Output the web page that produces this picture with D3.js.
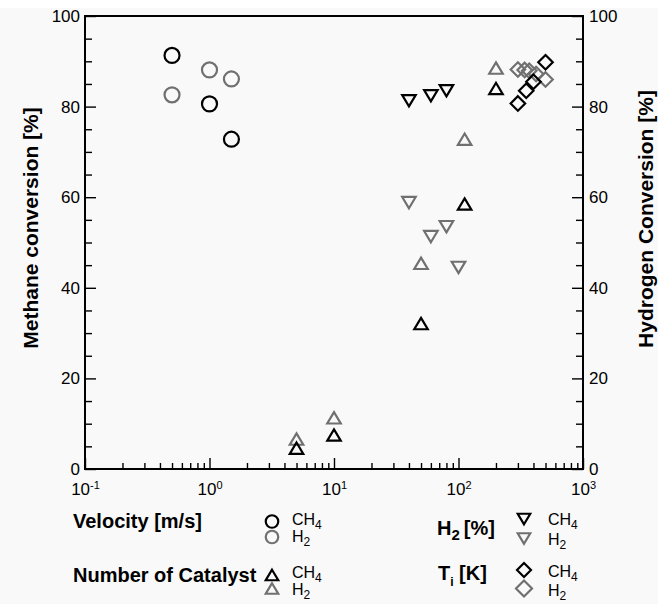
<!DOCTYPE html>
<html lang="en">
  <head>
    <meta charset="utf-8" />
    <title>Methane and hydrogen conversion</title>
    <script src="https://cdn.jsdelivr.net/npm/d3@7"></script>
    <style>
      body { margin: 0; background: #fff; }
      svg text { font-family: "Liberation Sans", Arial, Helvetica, sans-serif; fill: #000; }
    </style>
  </head>
  <body>
    <div id="chart"></div>
    <script>
      // axis ticks
      const xTickExp = [-1, 0, 1, 2, 3];
      const yTicks = [0, 20, 40, 60, 80, 100];

      // Velocity [m/s]
      const velX = [0.5, 1, 1.5];
      const velCH4 = [91.3, 80.6, 72.8];
      const velH2 = [82.6, 88.1, 86.1];

      // Number of Catalyst
      const catX = [5, 10, 50, 112, 200];
      const catCH4 = [4.6, 7.5, 32.1, 58.5, 84.0];
      const catH2 = [6.6, 11.3, 45.4, 72.8, 88.5];

      // H2 [%]
      const h2CH4X = [40, 60, 80];
      const h2CH4 = [81.3, 82.4, 83.5];
      const h2H2X = [40, 60, 80, 100];
      const h2H2 = [58.8, 51.3, 53.5, 44.5];

      // Ti [K]
      const tiCH4X = [300, 350, 400, 500];
      const tiCH4 = [80.7, 83.5, 85.5, 89.8];
      const tiH2X = [300, 340, 370, 420, 500];
      const tiH2 = [88.2, 88.1, 87.9, 87.2, 86.0];

      const cBlack = "#000",
        cGray = "#707070",
        cFont = "'Liberation Sans', Arial, Helvetica, sans-serif";

      const svg = d3
        .select("#chart")
        .append("svg")
        .attr("width", 666)
        .attr("height", 604);

      svg
        .append("rect")
        .attr("x", 0)
        .attr("y", 8)
        .attr("width", 658)
        .attr("height", 596)
        .attr("fill", "#f9f9f9");

      const xScale = d3.scaleLog().domain([0.1, 1000]).range([85, 583]);
      const yScale = d3.scaleLinear().domain([0, 100]).range([469, 16]);

      // marker shapes, centred on their bounding box
      const shapePath = {
        up: (s) => `M0,${-s * 0.42}L${s / 2},${s * 0.42}L${-s / 2},${s * 0.42}Z`,
        down: (s) => `M0,${s * 0.42}L${s / 2},${-s * 0.42}L${-s / 2},${-s * 0.42}Z`,
        diamond: (s) => `M0,${-s / 2}L${s / 2},0L0,${s / 2}L${-s / 2},0Z`,
      };

      function marker(g, shape, size, color) {
        if (shape === "circle") {
          g.append("circle")
            .attr("r", size / 2)
            .attr("fill", "none")
            .attr("stroke", color)
            .attr("stroke-width", 2.2);
        } else {
          g.append("path")
            .attr("d", shapePath[shape](size))
            .attr("fill", "none")
            .attr("stroke", color)
            .attr("stroke-width", 2.2)
            .attr("stroke-linejoin", "miter");
        }
      }

      const series = [
        { xs: velX, ys: velH2, shape: "circle", size: 15, color: cGray },
        { xs: velX, ys: velCH4, shape: "circle", size: 15, color: cBlack },
        { xs: catX, ys: catH2, shape: "up", size: 13.5, color: cGray },
        { xs: catX, ys: catCH4, shape: "up", size: 13.5, color: cBlack },
        { xs: h2H2X, ys: h2H2, shape: "down", size: 13.5, color: cGray },
        { xs: h2CH4X, ys: h2CH4, shape: "down", size: 13.5, color: cBlack },
        { xs: tiH2X, ys: tiH2, shape: "diamond", size: 14.5, color: cGray },
        { xs: tiCH4X, ys: tiCH4, shape: "diamond", size: 14.5, color: cBlack },
      ];

      // axes
      const fontAxis = (g) =>
        g.attr("font-size", 17).attr("font-family", cFont).call((g) => g.select(".domain").remove());

      const yMinor = d3.range(5, 100, 5).filter((v) => v % 20 !== 0);
      const xMinor = [];
      xTickExp.slice(0, -1).forEach((e) => {
        for (let k = 2; k <= 9; k++) xMinor.push(k * Math.pow(10, e));
      });

      svg.append("g")
        .attr("transform", `translate(${xScale.range()[0]},0)`)
        .call(d3.axisLeft(yScale).tickValues(yTicks).tickSize(-11).tickPadding(5))
        .call(fontAxis);
      svg.append("g")
        .attr("transform", `translate(${xScale.range()[0]},0)`)
        .call(d3.axisLeft(yScale).tickValues(yMinor).tickSize(-7).tickFormat(""))
        .call(fontAxis);
      svg.append("g")
        .attr("transform", `translate(${xScale.range()[1]},0)`)
        .call(d3.axisRight(yScale).tickValues(yTicks).tickSize(-11).tickPadding(6))
        .call(fontAxis);
      svg.append("g")
        .attr("transform", `translate(${xScale.range()[1]},0)`)
        .call(d3.axisRight(yScale).tickValues(yMinor).tickSize(-7).tickFormat(""))
        .call(fontAxis);

      const xAxis = svg.append("g")
        .attr("transform", `translate(0,${yScale.range()[0]})`)
        .call(d3.axisBottom(xScale).tickValues(xTickExp.map((e) => Math.pow(10, e))).tickSize(-11).tickFormat(""))
        .call(fontAxis);
      xAxis.selectAll(".tick text").remove();
      xAxis.selectAll(".tick").each(function (d, i) {
        const t = d3.select(this).append("text").attr("y", 26).attr("text-anchor", "middle").attr("fill", "#000");
        t.append("tspan").text("10");
        t.append("tspan").attr("dy", -6).attr("font-size", 11).text(xTickExp[i]);
      });
      svg.append("g")
        .attr("transform", `translate(0,${yScale.range()[0]})`)
        .call(d3.axisBottom(xScale).tickValues(xMinor).tickSize(-6).tickFormat(""))
        .call(fontAxis);

      svg.selectAll(".tick line").attr("stroke", "#000").attr("stroke-width", 1.4);

      // frame
      svg.append("rect")
        .attr("x", xScale.range()[0])
        .attr("y", yScale.range()[1])
        .attr("width", xScale.range()[1] - xScale.range()[0])
        .attr("height", yScale.range()[0] - yScale.range()[1])
        .attr("fill", "none")
        .attr("stroke", "#000")
        .attr("stroke-width", 2);

      // data markers
      series.forEach((s) => {
        s.xs.forEach((xv, i) => {
          const g = svg.append("g").attr("transform", `translate(${xScale(xv)},${yScale(s.ys[i])})`);
          marker(g, s.shape, s.size, s.color);
        });
      });

      // axis titles
      svg.append("text")
        .attr("transform", "translate(38,228) rotate(-90)")
        .attr("text-anchor", "middle")
        .attr("font-size", 21)
        .attr("font-weight", "bold")
        .text("Methane conversion [%]");
      svg.append("text")
        .attr("transform", "translate(653,219) rotate(-90)")
        .attr("text-anchor", "middle")
        .attr("font-size", 21)
        .attr("font-weight", "bold")
        .text("Hydrogen Conversion [%]");

      // legend
      const legend = svg.append("g");

      function legendTitle(x, y, parts) {
        const t = legend.append("text").attr("x", x).attr("y", y).attr("font-size", 20).attr("font-weight", "bold");
        parts.forEach((p) => {
          t.append("tspan").attr("dy", p.dy || 0).attr("font-size", p.size || null).text(p.text);
        });
      }

      function legendEntry(x, y, sub) {
        const t = legend.append("text").attr("x", x).attr("y", y).attr("font-size", 16);
        t.append("tspan").text(sub[0]);
        t.append("tspan").attr("dy", 4).attr("font-size", 12).text(sub[1]);
      }

      legendTitle(73, 528, [{ text: "Velocity [m/s]" }]);
      legendTitle(73, 582, [{ text: "Number of Catalyst" }]);
      legendTitle(437, 535, [
        { text: "H" },
        { text: "2", dy: 5, size: 15 },
        { text: "\u2009[%]", dy: -5 },
      ]);
      legendTitle(438, 580, [
        { text: "T" },
        { text: "i", dy: 6, size: 12 },
        { text: "\u00a0[K]", dy: -6 },
      ]);

      const legendItems = [
        { x: 272, y: 521.5, shape: "circle", size: 12.5, color: cBlack, tx: 292, ty: 525, sub: ["CH", "4"] },
        { x: 272, y: 537, shape: "circle", size: 12.5, color: cGray, tx: 292, ty: 542, sub: ["H", "2"] },
        { x: 272, y: 575, shape: "up", size: 12.5, color: cBlack, tx: 292, ty: 578, sub: ["CH", "4"] },
        { x: 272, y: 588.5, shape: "up", size: 12.5, color: cGray, tx: 292, ty: 595, sub: ["H", "2"] },
        { x: 524, y: 519, shape: "down", size: 12.5, color: cBlack, tx: 548, ty: 525, sub: ["CH", "4"] },
        { x: 524, y: 538.5, shape: "down", size: 12.5, color: cGray, tx: 548, ty: 545, sub: ["H", "2"] },
        { x: 524, y: 570, shape: "diamond", size: 14, color: cBlack, tx: 548, ty: 577, sub: ["CH", "4"] },
        { x: 524, y: 588.5, shape: "diamond", size: 16, color: cGray, tx: 548, ty: 596, sub: ["H", "2"] },
      ];
      legendItems.forEach((d) => {
        marker(legend.append("g").attr("transform", `translate(${d.x},${d.y})`), d.shape, d.size, d.color);
        legendEntry(d.tx, d.ty, d.sub);
      });
    </script>
  </body>
</html>
